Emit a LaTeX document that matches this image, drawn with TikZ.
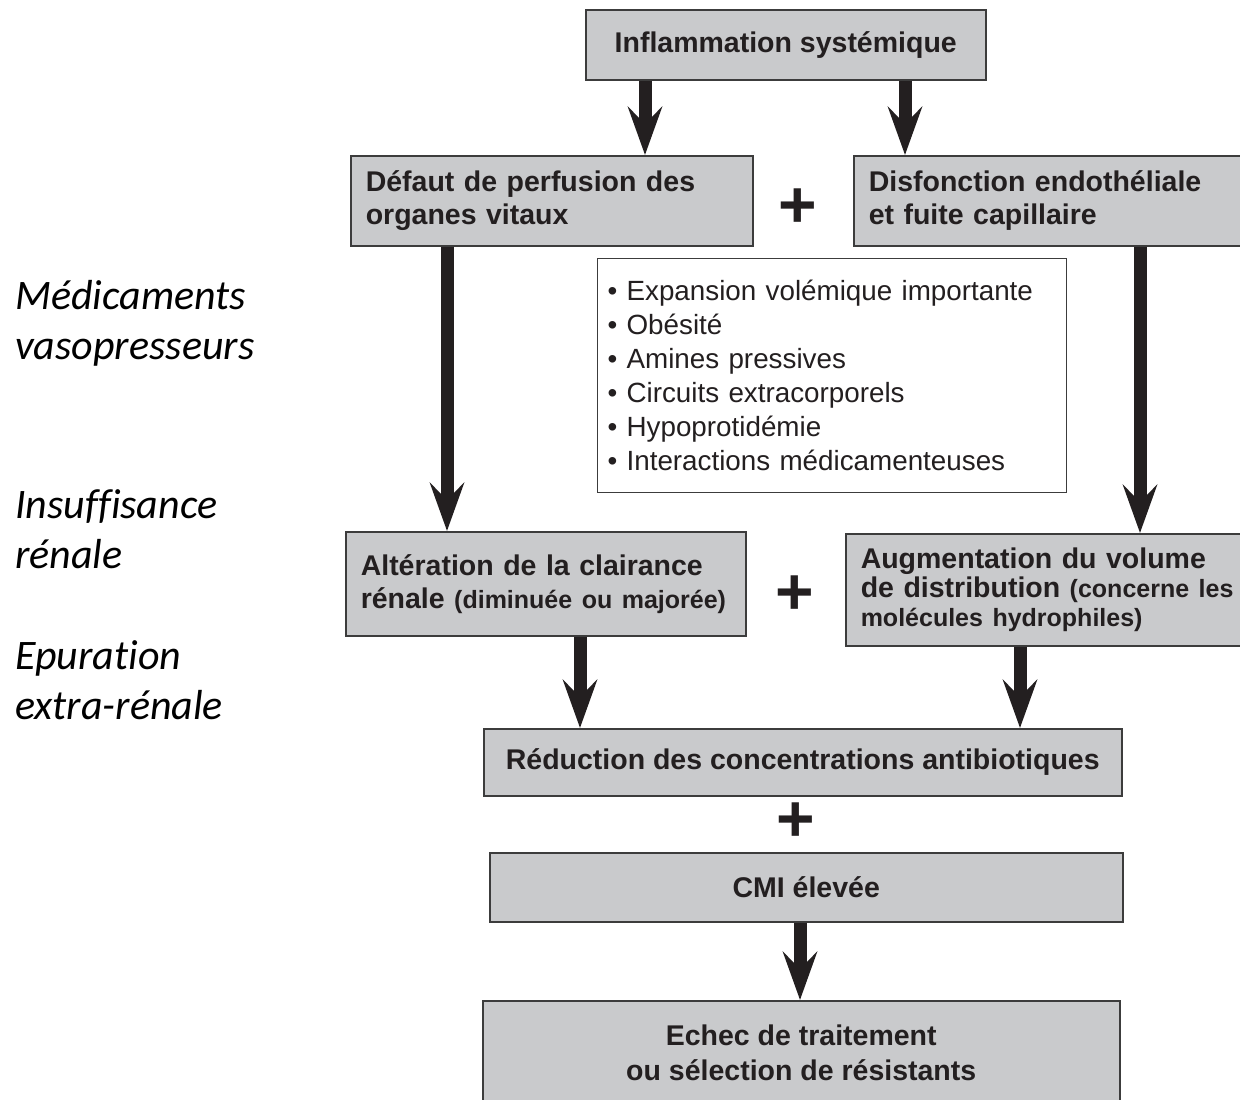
\documentclass[tikz,border=0pt]{standalone}
\usepackage{fontspec}
\setmainfont{Liberation Sans}
\newfontfamily\carl[Ligatures=NoCommon]{Carlito}
\usetikzlibrary{arrows.meta}
\definecolor{boxgray}{HTML}{C9CACC}
\definecolor{edgegray}{HTML}{3C3C3C}
\definecolor{ink}{HTML}{231F20}
\tikzset{
  box/.style={draw=edgegray, line width=1.5pt, fill=boxgray, inner xsep=15pt, inner ysep=0pt,
    font=\bfseries\fontsize{28.5}{33}\selectfont, text=ink, anchor=north west},
  listbox/.style={draw=edgegray, line width=1.2pt, fill=white, inner xsep=10pt, inner ysep=0pt,
    font=\fontsize{27.8}{34}\selectfont, text=ink, align=left, anchor=north west},
  bigarrow/.style={line width=13pt, -{Stealth[length=48pt,width=34pt,inset=17pt]}, draw=ink},
  plus/.style={font=\bfseries\fontsize{66}{66}\selectfont, inner sep=0pt, text=ink},
  sidelabel/.style={font=\carl\itshape\fontsize{42}{50}\selectfont, align=left, anchor=north west, inner sep=0pt, text=black},
}
\begin{document}
\begin{tikzpicture}[x=1pt, y=-1pt]
\useasboundingbox (0,0) rectangle (1240,1100);
\fill[white] (0,0) rectangle (1240,1100);
\clip (0,0) rectangle (1240,1100);

% side labels
\node[sidelabel] (lab1) at (15,280) {Médicaments\\vasopresseurs};
\node[sidelabel] (lab2) at (15,489) {Insuffisance\\rénale};
\node[sidelabel] (lab3) at (15,640) {Epuration\\extra-rénale};

% boxes
\node[box, minimum width=400pt, minimum height=70pt, align=center] (infl) at (585,9) {Inflammation systémique};
\node[box, minimum width=402pt, minimum height=90pt, text width=372pt, align=left] (defaut) at (350,155) {Défaut de perfusion des\\organes vitaux};
\node[box, minimum width=420pt, minimum height=90pt, text width=390pt, align=left] (disf) at (853,155) {Disfonction endothéliale\\et fuite capillaire};
\node[plus] (p1) at (798,208) {+};

\node[listbox, minimum width=469pt, minimum height=234pt, text width=449pt] (list) at (597,258)
  {• Expansion volémique importante\\• Obésité\\• Amines pressives\\• Circuits extracorporels\\• Hypoprotidémie\\• Interactions médicamenteuses};

\node[box, minimum width=400pt, minimum height=104pt, text width=370pt, align=left] (alter) at (345,531)
  {Altération de la clairance\\rénale {\fontsize{25}{33}\selectfont(diminuée ou majorée)}};
\node[box, minimum width=420pt, minimum height=112pt, text width=390pt, align=left, font=\bfseries\fontsize{28.5}{29}\selectfont] (augm) at (845,533)
  {Augmentation du volume\\de distribution {\fontsize{25}{29}\selectfont(concerne les}\\{\fontsize{25}{29}\selectfont molécules hydrophiles)}};
\node[plus] (p2) at (795,595) {+};

\node[box, minimum width=638pt, minimum height=67pt, align=center] (reduc) at (483,728) {Réduction des concentrations antibiotiques};
\node[plus] (p3) at (796,822) {+};
\node[box, minimum width=633pt, minimum height=69pt, align=center] (cmi) at (489,852) {CMI élevée};
\node[box, minimum width=637pt, minimum height=104pt, align=center, font=\bfseries\fontsize{28.5}{35}\selectfont] (echec) at (482,1000) {Echec de traitement\\ou sélection de résistants};

% arrow columns
\coordinate (xa) at (645,0);
\coordinate (xb) at (905,0);
\coordinate (xc) at (447,0);
\coordinate (xd) at (1140,0);
\coordinate (xe) at (580,0);
\coordinate (xf) at (1020,0);
\coordinate (xg) at (800,0);

\draw[bigarrow] (infl.south -| xa) -- (defaut.north -| xa);
\draw[bigarrow] (infl.south -| xb) -- (disf.north -| xb);
\draw[bigarrow] (defaut.south -| xc) -- (alter.north -| xc);
\draw[bigarrow] (disf.south -| xd) -- (augm.north -| xd);
\draw[bigarrow] (alter.south -| xe) -- (reduc.north -| xe);
\draw[bigarrow] (augm.south -| xf) -- (reduc.north -| xf);
\draw[bigarrow] (cmi.south -| xg) -- (echec.north -| xg);
\end{tikzpicture}
\end{document}
